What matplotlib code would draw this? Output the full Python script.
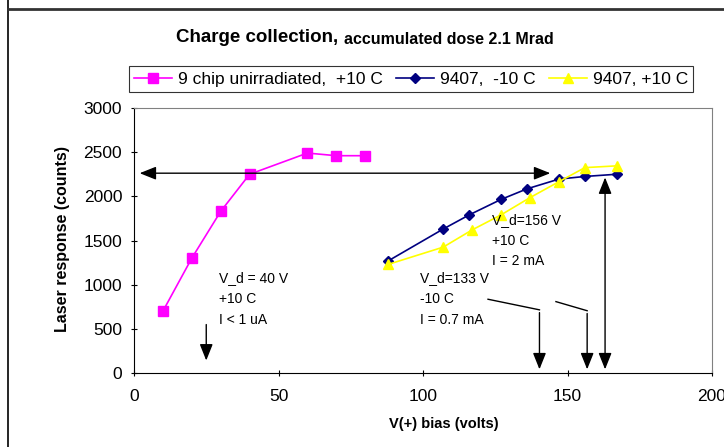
import matplotlib.pyplot as plt
from matplotlib.lines import Line2D

plt.rcParams['font.family'] = ['Liberation Sans', 'DejaVu Sans']

# data
v_unirr = [10, 20, 30, 40, 60, 70, 80]
resp_unirr = [700, 1300, 1830, 2250, 2490, 2460, 2460]

v_m10 = [88, 107, 116, 127, 136, 147, 156, 167]
resp_m10 = [1270, 1630, 1790, 1965, 2085, 2195, 2225, 2250]

v_p10 = [88, 107, 117, 127, 137, 147, 156, 167]
resp_p10 = [1230, 1425, 1620, 1790, 1985, 2165, 2325, 2345]

labels = ['9 chip unirradiated,  +10 C', '9407,  -10 C', '9407, +10 C']

fig = plt.figure(figsize=(7.24, 4.47), dpi=100)
ax = fig.add_axes([134 / 724, 1 - 373 / 447, (712 - 134) / 724, (373 - 108) / 447])

ax.plot(v_unirr, resp_unirr, color='#ff00ff', marker='s', ms=6.5, lw=1.2, label=labels[0])
ax.plot(v_m10, resp_m10, color='#000080', marker='D', ms=5, lw=1.2, label=labels[1])
ax.plot(v_p10, resp_p10, color='#ffff00', marker='^', ms=7.5, lw=1.2, label=labels[2])

ax.set_xlim(0, 200)
ax.set_ylim(0, 3000)
ax.set_xticks([0, 50, 100, 150, 200])
ax.set_yticks(range(0, 3001, 500))
ax.tick_params(labelsize=12.5, length=5, direction='inout', width=0.8)
ax.tick_params(axis='x', pad=9)
ax.tick_params(axis='y', pad=6)
for s in ['top', 'right']:
    ax.spines[s].set_color('#808080')

fig.text(444 / 724, 1 - 424 / 447, 'V(+) bias (volts)', fontsize=10.5, fontweight='bold',
         ha='center', va='center')
fig.text(62 / 724, 1 - 239 / 447, 'Laser response (counts)', fontsize=11.5, fontweight='bold',
         ha='center', va='center', rotation=90)

# arrows
head = dict(arrowstyle='-|>,head_width=0.4,head_length=1.0', color='black', lw=1)
both = dict(arrowstyle='<|-|>,head_width=0.4,head_length=1.0', color='black', lw=1)
ax.annotate('', xy=(1, 2262), xytext=(145, 2262), arrowprops=both)
ax.annotate('', xy=(25, 110), xytext=(25, 580), arrowprops=head)
ax.annotate('', xy=(163, 10), xytext=(163, 2245), arrowprops=both)
ax.plot([122.5, 140.3], [835, 715], color='black', lw=1)
ax.annotate('', xy=(140.3, 10), xytext=(140.3, 715), arrowprops=head)
ax.plot([146, 156.8], [808, 705], color='black', lw=1)
ax.annotate('', xy=(156.8, 10), xytext=(156.8, 705), arrowprops=head)

ax.text(29.5, 1150, 'V_d = 40 V\n+10 C\nI < 1 uA', fontsize=10, va='top', linespacing=1.6)
ax.text(124, 1810, 'V_d=156 V\n+10 C\nI = 2 mA', fontsize=10, va='top', linespacing=1.6)
ax.text(99, 1150, 'V_d=133 V\n-10 C\nI = 0.7 mA', fontsize=10, va='top', linespacing=1.6)

# title in two sizes
fig.text(338 / 724, 1 - 38 / 447, 'Charge collection,', fontsize=13.5, fontweight='bold',
         ha='right', va='center')
fig.text(344 / 724, 1 - 39 / 447, 'accumulated dose 2.1 Mrad', fontsize=11.5, fontweight='bold',
         ha='left', va='center')

leg = fig.legend(loc='center', bbox_to_anchor=(411 / 724, 1 - 79 / 447), ncol=3,
                 fontsize=12.5, frameon=True, fancybox=False, edgecolor='black',
                 handlelength=2.2, columnspacing=0.8, handletextpad=0.3, borderpad=0.3)
leg.get_frame().set_linewidth(0.8)

# outer frame lines
fig.add_artist(Line2D([8 / 724, 8 / 724], [0, 1], color='black', lw=1.2, transform=fig.transFigure))
fig.add_artist(Line2D([8 / 724, 1], [1 - 9 / 447, 1 - 9 / 447], color='#333333', lw=2,
                      transform=fig.transFigure))

fig.savefig('out.png', dpi=100)
